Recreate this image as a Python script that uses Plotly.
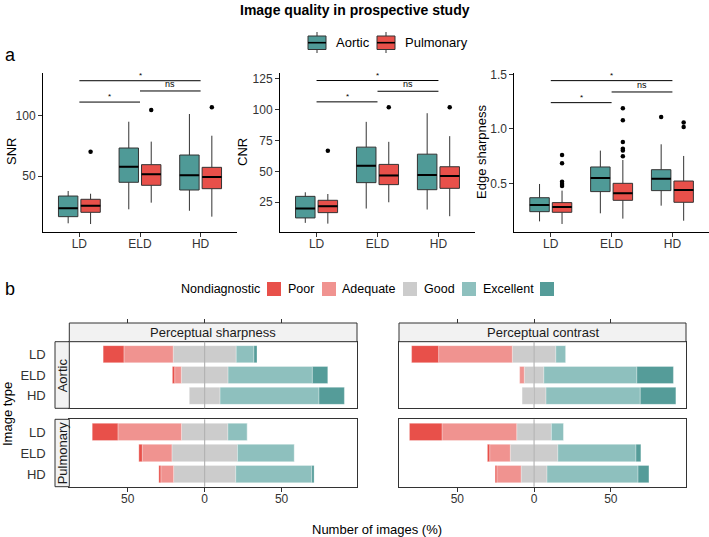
import plotly.graph_objects as go

W, H = 709, 537
FONT = "Liberation Sans, Arial, Helvetica, sans-serif"

# ------------------------------------------------------------------ data
doses = ["LD", "ELD", "HD"]
groups = ["Aortic", "Pulmonary"]
group_colors = ["#4F9A97", "#E8504A"]

# box summaries per dose: lower whisker, Q1, median, Q3, upper whisker
snr_aortic = {"low": [10.8, 22.4, 21.2], "q1": [16.3, 44.8, 38.4], "med": [23.2, 57.7, 50.6],
              "q3": [33.4, 73.2, 67.4], "high": [37.6, 95.0, 101.4]}
snr_pulmonary = {"low": [10.2, 27.9, 16.3], "q1": [19.9, 42.3, 39.5], "med": [25.4, 51.4, 49.2],
                 "q3": [30.7, 59.4, 57.2], "high": [35.3, 78.5, 83.4]}
snr_out_aortic = [[], [], []]
snr_out_pulmonary = [[70.2], [104.7], [107.0]]

cnr_aortic = {"low": [8.3, 19.9, 19.1], "q1": [12.3, 40.9, 35.2], "med": [19.9, 54.6, 47.1],
              "q3": [29.8, 69.7, 64.0], "high": [33.1, 90.2, 97.2]}
cnr_pulmonary = {"low": [7.7, 25.0, 13.7], "q1": [16.6, 39.3, 36.3], "med": [21.8, 46.8, 46.3],
                 "q3": [26.6, 55.7, 53.8], "high": [31.7, 74.0, 78.6]}
cnr_out_aortic = [[], [], []]
cnr_out_pulmonary = [[66.8], [102.0], [102.0]]

edge_aortic = {"low": [0.151, 0.225, 0.295], "q1": [0.240, 0.424, 0.433], "med": [0.301, 0.549, 0.543],
               "q3": [0.368, 0.650, 0.625], "high": [0.494, 0.800, 0.858]}
edge_pulmonary = {"low": [0.127, 0.176, 0.157], "q1": [0.234, 0.344, 0.326], "med": [0.283, 0.408, 0.439],
                  "q3": [0.323, 0.500, 0.521], "high": [0.433, 0.714, 0.751]}
edge_out_aortic = [[], [], [1.109]]
edge_out_pulmonary = [[0.76, 0.683, 0.515, 0.494, 0.476],
                      [1.188, 1.078, 0.879, 0.818, 0.80, 0.748],
                      [1.057, 1.017]]

metric_titles = ["SNR", "CNR", "Edge sharpness"]
snr_ticks = [50, 100]
cnr_ticks = [25, 50, 75, 100, 125]
edge_ticks = [0.5, 1.0, 1.5]
edge_ticktext = ["0.5", "1.0", "1.5"]

# significance comparisons (dose index pairs) and labels
comparisons = [(0, 2), (0, 1), (1, 2)]
comparison_labels = ["*", "*", "ns"]
snr_sig_y = [129.0, 111.3, 120.5]
cnr_sig_y = [123.7, 106.4, 115.0]
edge_sig_y = [1.442, 1.240, 1.338]

# ---- panel b: Likert percentages per dose (LD, ELD, HD)
levels = ["Nondiagnostic", "Poor", "Adequate", "Good", "Excellent"]
level_colors = ["#E8504A", "#F09390", "#CCCCCC", "#8EC0BE", "#559C99"]

sharp_aortic = {"Nondiagnostic": [13.5, 1.5, 0], "Poor": [32.0, 4.3, 0], "Adequate": [41.0, 30.4, 20.0],
                "Good": [11.5, 54.8, 64.3], "Excellent": [2.0, 10.0, 16.5]}
sharp_pulmonary = {"Nondiagnostic": [16.7, 2.2, 1.3], "Poor": [41.3, 19.3, 8.3], "Adequate": [30.2, 42.6, 40.4],
                   "Good": [12.6, 37.0, 49.4], "Excellent": [0, 0, 1.5]}
contrast_aortic = {"Nondiagnostic": [17.6, 0, 0], "Poor": [48.0, 3.0, 0], "Adequate": [28.4, 12.8, 15.6],
                   "Good": [6.5, 60.6, 61.4], "Excellent": [0, 23.8, 23.2]}
contrast_pulmonary = {"Nondiagnostic": [21.2, 1.5, 1.1], "Poor": [48.7, 13.4, 15.8], "Adequate": [22.6, 31.0, 16.9],
                      "Good": [8.0, 50.9, 59.3], "Excellent": [0, 3.2, 7.1]}

facet_cols = ["Perceptual sharpness", "Perceptual contrast"]
likert_ticks = [-50, 0, 50]
likert_ticktext = ["50", "0", "50"]


# ------------------------------------------------------------------ helpers
def px(x):
    return x / W


def py(y):
    return 1 - y / H


fig = go.Figure()

BOX_OFFSET = 0.185
BOX_W = 0.32
box_panels = [
    ("x", "y", [snr_aortic, snr_pulmonary], [snr_out_aortic, snr_out_pulmonary]),
    ("x2", "y2", [cnr_aortic, cnr_pulmonary], [cnr_out_aortic, cnr_out_pulmonary]),
    ("x3", "y3", [edge_aortic, edge_pulmonary], [edge_out_aortic, edge_out_pulmonary]),
]
offsets = [-BOX_OFFSET, BOX_OFFSET]

for xa, ya, stats_list, outs_list in box_panels:
    for gi, (stats, outs) in enumerate(zip(stats_list, outs_list)):
        pos = [i + offsets[gi] for i in range(len(doses))]
        fig.add_trace(go.Box(
            x=pos, q1=stats["q1"], median=stats["med"], q3=stats["q3"],
            lowerfence=stats["low"], upperfence=stats["high"],
            width=BOX_W, whiskerwidth=0, boxpoints=False,
            fillcolor=group_colors[gi], line=dict(color="#333333", width=1),
            xaxis=xa, yaxis=ya, showlegend=False, hoverinfo="skip"))
        # thicker median line
        mx, my = [], []
        for p, m in zip(pos, stats["med"]):
            mx += [p - BOX_W / 2, p + BOX_W / 2, None]
            my += [m, m, None]
        fig.add_trace(go.Scatter(x=mx, y=my, mode="lines", line=dict(color="black", width=2),
                                 xaxis=xa, yaxis=ya, showlegend=False, hoverinfo="skip"))
        ox, oy = [], []
        for p, vals in zip(pos, outs):
            for v in vals:
                ox.append(p)
                oy.append(v)
        if ox:
            fig.add_trace(go.Scatter(x=ox, y=oy, mode="markers",
                                     marker=dict(color="black", size=4.5),
                                     xaxis=xa, yaxis=ya, showlegend=False, hoverinfo="skip"))

# Likert bars
likert_panels = [
    ("x4", "y4", sharp_aortic), ("x5", "y5", contrast_aortic),
    ("x6", "y6", sharp_pulmonary), ("x7", "y7", contrast_pulmonary),
]
for xa, ya, d in likert_panels:
    adequate = d["Adequate"]
    neg_specs = [
        ([-a / 2 for a in adequate], level_colors[2]),
        ([-v for v in d["Poor"]], level_colors[1]),
        ([-v for v in d["Nondiagnostic"]], level_colors[0]),
    ]
    pos_specs = [
        ([a / 2 for a in adequate], level_colors[2]),
        (d["Good"], level_colors[3]),
        (d["Excellent"], level_colors[4]),
    ]
    for vals, col in neg_specs + pos_specs:
        fig.add_trace(go.Bar(x=vals, y=doses, orientation="h",
                             marker=dict(color=col, line=dict(color="rgba(255,255,255,0.6)", width=0.5)),
                             xaxis=xa, yaxis=ya, showlegend=False, hoverinfo="skip"))

# dummy traces for top tick axes
fig.add_trace(go.Scatter(x=[None], y=[None], xaxis="x8", yaxis="y4", showlegend=False, hoverinfo="skip"))
fig.add_trace(go.Scatter(x=[None], y=[None], xaxis="x9", yaxis="y5", showlegend=False, hoverinfo="skip"))

# ------------------------------------------------------------------ layout
tickfont = dict(family=FONT, size=12, color="#333333")

box_axis_common_x = dict(range=[-0.6, 2.6], tickvals=list(range(len(doses))), ticktext=doses,
                         showline=True, linecolor="black", linewidth=1, ticks="outside", ticklen=4,
                         tickcolor="#333333", showgrid=False, zeroline=False, tickfont=tickfont,
                         automargin=False, ticklabelstandoff=-3)
box_axis_common_y = dict(showline=True, linecolor="black", linewidth=1, ticks="outside", ticklen=4,
                         tickcolor="#333333", showgrid=False, zeroline=False, tickfont=tickfont,
                         automargin=False)

ydom_box = [py(231.5), py(73)]
layout = dict(
    width=W, height=H, margin=dict(l=0, r=0, t=0, b=0, autoexpand=False),
    paper_bgcolor="white", plot_bgcolor="white",
    font=dict(family=FONT, size=12, color="black"),
    barmode="relative", bargap=0.18,
    xaxis=dict(domain=[px(43), px(237)], anchor="y", **box_axis_common_x),
    yaxis=dict(domain=ydom_box, anchor="x", range=[4.0, 135.4], tickvals=snr_ticks, **box_axis_common_y),
    xaxis2=dict(domain=[px(280), px(475)], anchor="y2", **box_axis_common_x),
    yaxis2=dict(domain=ydom_box, anchor="x2", range=[1.3, 129.8], tickvals=cnr_ticks, **box_axis_common_y),
    xaxis3=dict(domain=[px(514.3), px(708.9)], anchor="y3", **box_axis_common_x),
    yaxis3=dict(domain=ydom_box, anchor="x3", range=[0.058, 1.512], tickvals=edge_ticks,
                ticktext=edge_ticktext, **box_axis_common_y),
)

xdom_l = [px(69.3), px(357)]
xdom_r = [px(399), px(686)]
ydom_top = [py(408.3), py(341.7)]
ydom_bot = [py(486.7), py(419.3)]
lik_x = dict(range=[-88, 99], tickvals=likert_ticks, ticktext=likert_ticktext, showline=True, mirror=True,
             linecolor="#333333", linewidth=1, showgrid=False, zeroline=False, tickfont=tickfont,
             tickcolor="#333333", automargin=False)
lik_y = dict(type="category", categoryorder="array", categoryarray=doses, range=[2.6, -0.6],
             showline=True, mirror=True, linecolor="#333333", linewidth=1, showgrid=False,
             zeroline=False, tickfont=dict(family=FONT, size=13, color="#333333"), automargin=False)
top_x = dict(anchor="free", position=py(323), side="top", range=[-88, 99],
             tickvals=likert_ticks, showticklabels=False, ticks="outside", ticklen=4,
             tickcolor="#333333", showline=False, showgrid=False, zeroline=False, automargin=False)
layout.update(
    xaxis4=dict(domain=xdom_l, anchor="y4", showticklabels=False, ticks="", **lik_x),
    yaxis4=dict(domain=ydom_top, anchor="x4", ticks="outside", ticklen=20, tickcolor="rgba(0,0,0,0)", **lik_y),
    xaxis5=dict(domain=xdom_r, anchor="y5", showticklabels=False, ticks="", **lik_x),
    yaxis5=dict(domain=ydom_top, anchor="x5", showticklabels=False, ticks="", **lik_y),
    xaxis6=dict(domain=xdom_l, anchor="y6", ticks="outside", ticklen=4, ticklabelstandoff=-3, **lik_x),
    yaxis6=dict(domain=ydom_bot, anchor="x6", ticks="outside", ticklen=20, tickcolor="rgba(0,0,0,0)", **lik_y),
    xaxis7=dict(domain=xdom_r, anchor="y7", ticks="outside", ticklen=4, ticklabelstandoff=-3, **lik_x),
    yaxis7=dict(domain=ydom_bot, anchor="x7", showticklabels=False, ticks="", **lik_y),
    xaxis8=dict(overlaying="x4", **top_x),
    xaxis9=dict(overlaying="x5", **top_x),
)
fig.update_layout(**layout)

shapes = []
annotations = []


def text(x, y, s, size=12, angle=0, xanchor="center", yanchor="middle", bold=False, color="black"):
    annotations.append(dict(x=px(x), y=py(y), xref="paper", yref="paper", text=s, showarrow=False,
                            textangle=angle, xanchor=xanchor, yanchor=yanchor,
                            font=dict(family=FONT, size=size, color=color,
                                      weight="bold" if bold else "normal")))


# title and panel letters
text(355, 10, "Image quality in prospective study", size=14, bold=True)
text(3, 55, "a", size=18, xanchor="left")
text(3, 289, "b", size=18, xanchor="left")

# legend a (box icons)
for gi, (g, col, x0, tx) in enumerate(zip(groups, group_colors, [308, 377], [334, 403])):
    shapes.append(dict(type="line", xref="paper", yref="paper", x0=px(x0 + 9), x1=px(x0 + 9),
                       y0=py(32), y1=py(53), line=dict(color="#333333", width=1)))
    shapes.append(dict(type="rect", xref="paper", yref="paper", x0=px(x0), x1=px(x0 + 18),
                       y0=py(36), y1=py(49.5), fillcolor=col, line=dict(color="#333333", width=1)))
    shapes.append(dict(type="line", xref="paper", yref="paper", x0=px(x0), x1=px(x0 + 18),
                       y0=py(42.7), y1=py(42.7), line=dict(color="black", width=1.6)))
    text(tx, 42, g, size=13, xanchor="left")

# axis titles panel a
for title, xc in zip(metric_titles, [12, 243, 482]):
    text(xc, 152, title, size=13, angle=-90)

# significance brackets
for xa, ya, sig_y in [("x", "y", snr_sig_y), ("x2", "y2", cnr_sig_y), ("x3", "y3", edge_sig_y)]:
    for (i0, i1), lab, yv in zip(comparisons, comparison_labels, sig_y):
        shapes.append(dict(type="line", xref=xa, yref=ya, x0=i0, x1=i1, y0=yv, y1=yv,
                           line=dict(color="black", width=1)))
        annotations.append(dict(x=(i0 + i1) / 2, y=yv, xref=xa, yref=ya, text=lab, showarrow=False,
                                yanchor="bottom", yshift=-1 if lab == "*" else 0,
                                font=dict(family=FONT, size=8 if lab == "*" else 9, color="black")))

# legend b
legend_b_text_right = [262, 316, 398, 457, 536]
legend_b_square_x = [267, 322, 403, 462, 540]
for lab, col, tr, sx in zip(levels, level_colors, legend_b_text_right, legend_b_square_x):
    text(tr, 289, lab, size=12.5, xanchor="right")
    shapes.append(dict(type="rect", xref="paper", yref="paper", x0=px(sx), x1=px(sx + 14),
                       y0=py(282), y1=py(296), fillcolor=col, line=dict(width=0)))

# facet strips
for lab, (xl, xr) in zip(facet_cols, [(69.3, 357), (399, 686)]):
    shapes.append(dict(type="rect", xref="paper", yref="paper", x0=px(xl), x1=px(xr),
                       y0=py(341.7), y1=py(323), fillcolor="#F2F2F2", line=dict(color="#333333", width=1)))
    text((xl + xr) / 2, 332.5, lab, size=13, color="#1a1a1a")
for lab, (yt, yb) in zip(groups, [(341.7, 408.3), (419.3, 486.7)]):
    shapes.append(dict(type="rect", xref="paper", yref="paper", x0=px(55), x1=px(69.3),
                       y0=py(yb), y1=py(yt), fillcolor="#F2F2F2", line=dict(color="#333333", width=1)))
    text(62.3, (yt + yb) / 2, lab, size=13, angle=-90, color="#1a1a1a")

# centre lines
for xa, ya in [("x4", "y4"), ("x5", "y5"), ("x6", "y6"), ("x7", "y7")]:
    shapes.append(dict(type="line", xref=xa, yref=ya + " domain", x0=0, x1=0, y0=0, y1=1,
                       line=dict(color="#A8A8A8", width=1), layer="above"))

# panel b axis titles
text(7, 414, "Image type", size=13, angle=-90)
text(377, 529, "Number of images (%)", size=13)

fig.update_layout(shapes=shapes, annotations=annotations)
fig.write_html("out.html", config={"displayModeBar": False},
               post_script="document.body.style.margin='0';document.body.style.overflow='hidden';")
